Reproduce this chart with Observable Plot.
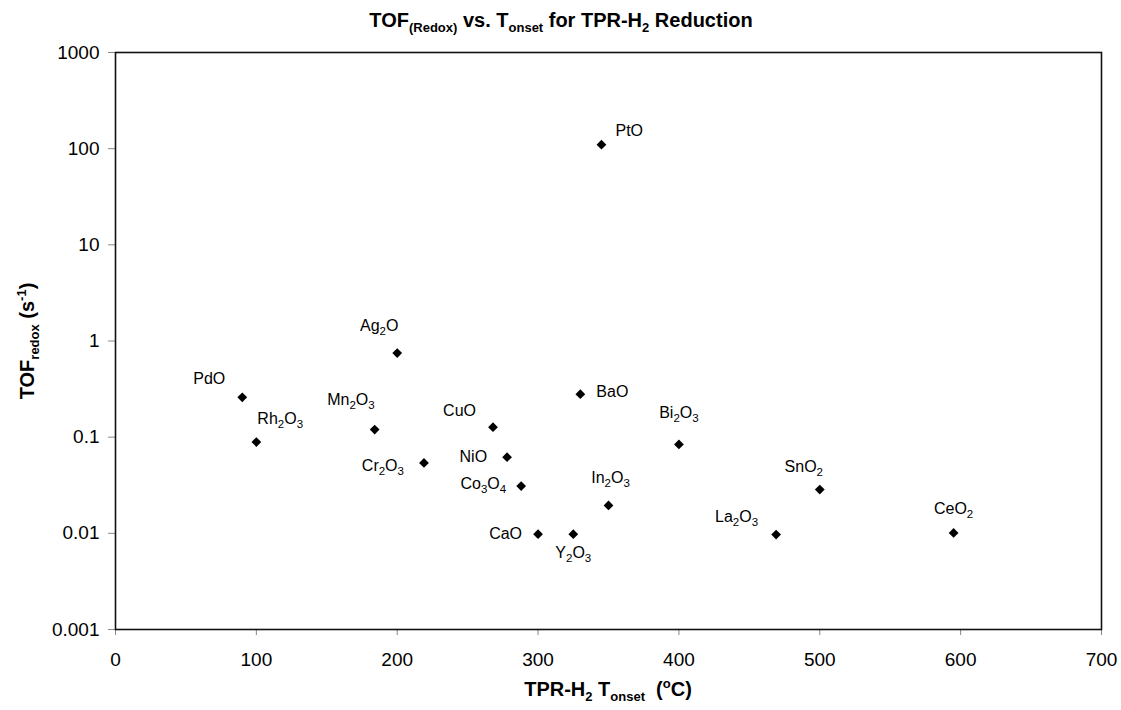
<!DOCTYPE html>
<html><head><meta charset="utf-8">
<script src="https://cdn.jsdelivr.net/npm/d3@7"></script>
<script src="https://cdn.jsdelivr.net/npm/@observablehq/plot@0.6"></script>
<style>
body{margin:0;background:#fff;font-family:"Liberation Sans",Arial,Helvetica,sans-serif;}
</style></head><body><div id="chart"></div>
<script>
const oxides   = ["PdO","Rh2O3","Ag2O","Mn2O3","Cr2O3","CuO","NiO","Co3O4","CaO","Y2O3","PtO","BaO","In2O3","Bi2O3","La2O3","SnO2","CeO2"];
const tOnset   = [90, 100, 200, 184, 219, 268, 278, 288, 300, 325, 345, 330, 350, 400, 469, 500, 595];
const tofRedox = [0.26, 0.089, 0.75, 0.12, 0.054, 0.127, 0.062, 0.031, 0.0098, 0.0098, 110, 0.28, 0.0195, 0.084, 0.0097, 0.0285, 0.0101];
const xTicks = [0, 100, 200, 300, 400, 500, 600, 700];
const yTicks = [0.001, 0.01, 0.1, 1, 10, 100, 1000];

// label placement (layout only): [dx, dy, anchor]
const labelPlacement = {
  PdO:["-17","-18","end"], Rh2O3:["1","-23","start"], Ag2O:["-18","-27","middle"],
  Mn2O3:["0","-30","end"], Cr2O3:["-20","3","end"], CuO:["-17","-16","end"],
  NiO:["-20","0","end"], Co3O4:["-15","-2","end"], CaO:["-16","0","end"],
  Y2O3:["0","19","middle"], PtO:["14","-14","start"], BaO:["16","-2","start"],
  In2O3:["2","-28","middle"], Bi2O3:["0","-32","middle"], La2O3:["-18","-18","end"],
  SnO2:["-16","-23","middle"], CeO2:["0","-24","middle"]
};

const data = oxides.map((name, i) => ({name, t: tOnset[i], tof: tofRedox[i]}));
const FONT = '"Liberation Sans", Arial, Helvetica, sans-serif';

const labelMarks = data.map(d => {
  const p = labelPlacement[d.name];
  return Plot.text([d], {x: "t", y: "tof", text: "name", dx: +p[0], dy: +p[1],
    textAnchor: p[2], fontSize: 16, fill: "#000"});
});

const plot = Plot.plot({
  width: 1121, height: 710,
  marginTop: 52, marginBottom: 81, marginLeft: 115, marginRight: 20,
  style: {fontFamily: FONT, background: "#fff", color: "#000"},
  x: {domain: [0, 700]},
  y: {type: "log", domain: [0.001, 1000]},
  marks: [
    Plot.axisX({ticks: xTicks, tickSize: 6, tickPadding: 17, fontSize: 19, label: null, stroke: "#888", fill: "#000", tickFormat: d => String(d)}),
    Plot.axisY({ticks: yTicks, tickSize: 7, tickPadding: 9, fontSize: 19, label: null, stroke: "#888", fill: "#000", tickFormat: d => String(d)}),
    Plot.frame({stroke: "#111", strokeWidth: 1.6}),
    Plot.dot(data, {x: "t", y: "tof", symbol: "diamond2", r: 4.4, fill: "#000", stroke: null}),
    ...labelMarks
  ]
});

const ns = "http://www.w3.org/2000/svg";
// subscripts in the point labels
plot.querySelectorAll('g[aria-label="text"] text').forEach(el => {
  const s = el.textContent;
  el.textContent = "";
  let shifted = false;
  for (const part of s.match(/\d+|\D+/g)) {
    const t = document.createElementNS(ns, "tspan");
    t.textContent = part;
    if (/\d/.test(part)) { t.setAttribute("font-size", 11.5); t.setAttribute("dy", 4); shifted = true; }
    else if (shifted) { t.setAttribute("dy", -4); shifted = false; }
    el.appendChild(t);
  }
});

function rich(attrs, segs, small) {
  const el = document.createElementNS(ns, "text");
  for (const k in attrs) el.setAttribute(k, attrs[k]);
  el.setAttribute("xml:space", "preserve");
  el.style.whiteSpace = "pre";
  let cur = 0;
  for (const [txt, mode] of segs) {
    const t = document.createElementNS(ns, "tspan");
    t.textContent = txt;
    const target = mode === "sub" ? 5 : mode === "sup" ? -8 : 0;
    if (mode) t.setAttribute("font-size", small);
    if (target !== cur) { t.setAttribute("dy", target - cur); cur = target; }
    el.appendChild(t);
  }
  plot.appendChild(el);
  return el;
}

rich({x: 561, y: 27, "text-anchor": "middle", "font-size": 20, "font-weight": "bold", "font-family": FONT, fill: "#000"},
  [["TOF"], ["(Redox)", "sub"], [" vs. T"], ["onset", "sub"], [" for TPR-H"], ["2", "sub"], [" Reduction"]], 13);

rich({x: 608, y: 696, "text-anchor": "middle", "font-size": 20, "font-weight": "bold", "font-family": FONT, fill: "#000"},
  [["TPR-H"], ["2", "sub"], [" T"], ["onset", "sub"], ["  ("], ["o", "sup"], ["C)"]], 13);

rich({transform: "translate(33.5,341) rotate(-90)", "text-anchor": "middle", "font-size": 20, "font-weight": "bold", "font-family": FONT, fill: "#000"},
  [["TOF"], ["redox", "sub"], [" (s"], ["-1", "sup"], [")"]], 13);

document.getElementById("chart").appendChild(plot);
</script></body></html>
